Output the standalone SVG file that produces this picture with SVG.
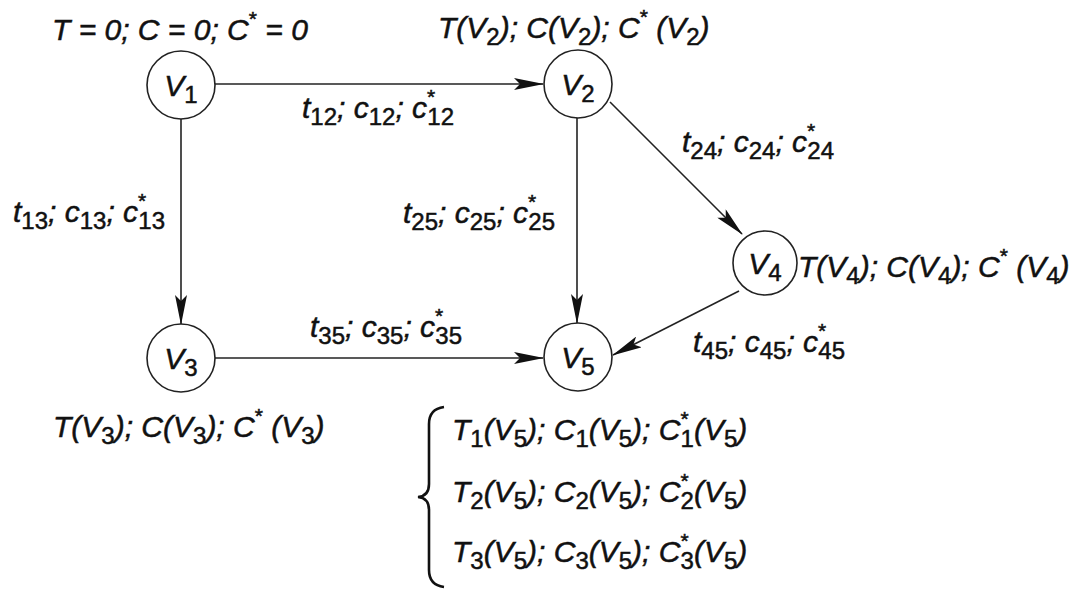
<svg xmlns="http://www.w3.org/2000/svg" width="1078" height="590" viewBox="0 0 1078 590">
<defs>
<style>
text{font-family:"Liberation Sans",Arial,sans-serif;font-style:italic;fill:#111;stroke:#111;stroke-width:0.5;}
.nl{font-size:30px;}
.el{font-size:30px;}
.vl{font-size:30px;}
.sub{font-size:24px;font-style:normal;}
.sup{font-size:21px;font-style:normal;}
.node circle{fill:#fff;stroke:#222;stroke-width:1.6;}
.edge{stroke:#222;stroke-width:1.6;fill:none;marker-end:url(#ah);}
.brace{stroke:#111;stroke-width:2.6;fill:none;}
</style>
<marker id="ah" markerUnits="userSpaceOnUse" markerWidth="30" markerHeight="12" refX="29" refY="6" orient="auto">
<path d="M0,0 L30,6 L0,12 L6,6 z" fill="#111"/>
</marker>
</defs>
<rect width="1078" height="590" fill="#fff"/>

<g id="connectors">
<line class="edge" x1="215" y1="84" x2="543" y2="84"/>
<line class="edge" x1="181" y1="119" x2="181" y2="324"/>
<line class="edge" x1="577" y1="118" x2="577" y2="323"/>
<line class="edge" x1="610" y1="102" x2="742" y2="234"/>
<line class="edge" x1="215" y1="358" x2="543" y2="358"/>
<line class="edge" x1="739" y1="291" x2="613" y2="355"/>
</g>

<g id="edge-labels">
<text class="el" x="302" y="118">t<tspan class="sub" dy="7">12</tspan><tspan dy="-7">; c</tspan><tspan class="sub" dy="7">12</tspan><tspan dy="-7">; c</tspan><tspan class="sup" dy="-14">*</tspan><tspan class="sub" dx="-8" dy="21">12</tspan></text>
<text class="el" x="13" y="222">t<tspan class="sub" dy="7">13</tspan><tspan dy="-7">; c</tspan><tspan class="sub" dy="7">13</tspan><tspan dy="-7">; c</tspan><tspan class="sup" dy="-14">*</tspan><tspan class="sub" dx="-8" dy="21">13</tspan></text>
<text class="el" x="403" y="223">t<tspan class="sub" dy="7">25</tspan><tspan dy="-7">; c</tspan><tspan class="sub" dy="7">25</tspan><tspan dy="-7">; c</tspan><tspan class="sup" dy="-14">*</tspan><tspan class="sub" dx="-8" dy="21">25</tspan></text>
<text class="el" x="682" y="152">t<tspan class="sub" dy="7">24</tspan><tspan dy="-7">; c</tspan><tspan class="sub" dy="7">24</tspan><tspan dy="-7">; c</tspan><tspan class="sup" dy="-14">*</tspan><tspan class="sub" dx="-8" dy="21">24</tspan></text>
<text class="el" x="310" y="337">t<tspan class="sub" dy="7">35</tspan><tspan dy="-7">; c</tspan><tspan class="sub" dy="7">35</tspan><tspan dy="-7">; c</tspan><tspan class="sup" dy="-14">*</tspan><tspan class="sub" dx="-8" dy="21">35</tspan></text>
<text class="el" x="693" y="352">t<tspan class="sub" dy="7">45</tspan><tspan dy="-7">; c</tspan><tspan class="sub" dy="7">45</tspan><tspan dy="-7">; c</tspan><tspan class="sup" dy="-14">*</tspan><tspan class="sub" dx="-8" dy="21">45</tspan></text>
</g>

<g id="V1" class="node">
<circle cx="181" cy="85" r="34"/>
<text class="vl" x="181" y="96" text-anchor="middle">V<tspan class="sub" dy="7">1</tspan></text>
<text class="nl" x="52" y="40">T = 0; C = 0; C<tspan class="sup" dy="-14">*</tspan><tspan dy="14"> = 0</tspan></text>
</g>

<g id="V2" class="node">
<circle cx="578" cy="84" r="34"/>
<text class="vl" x="578" y="95" text-anchor="middle">V<tspan class="sub" dy="7">2</tspan></text>
<text class="nl" x="438" y="38">T(V<tspan class="sub" dy="7">2</tspan><tspan dy="-7">); C(V</tspan><tspan class="sub" dy="7">2</tspan><tspan dy="-7">); C</tspan><tspan class="sup" dy="-14">*</tspan><tspan dy="14"> (V</tspan><tspan class="sub" dy="7">2</tspan><tspan dy="-7">)</tspan></text>
</g>

<g id="V3" class="node">
<circle cx="181" cy="358" r="34"/>
<text class="vl" x="181" y="369" text-anchor="middle">V<tspan class="sub" dy="7">3</tspan></text>
<text class="nl" x="53" y="437">T(V<tspan class="sub" dy="7">3</tspan><tspan dy="-7">); C(V</tspan><tspan class="sub" dy="7">3</tspan><tspan dy="-7">); C</tspan><tspan class="sup" dy="-14">*</tspan><tspan dy="14"> (V</tspan><tspan class="sub" dy="7">3</tspan><tspan dy="-7">)</tspan></text>
</g>

<g id="V4" class="node">
<circle cx="765" cy="263" r="32"/>
<text class="vl" x="765" y="274" text-anchor="middle">V<tspan class="sub" dy="7">4</tspan></text>
<text class="nl" x="798" y="277">T(V<tspan class="sub" dy="7">4</tspan><tspan dy="-7">); C(V</tspan><tspan class="sub" dy="7">4</tspan><tspan dy="-7">); C</tspan><tspan class="sup" dy="-14">*</tspan><tspan dy="14"> (V</tspan><tspan class="sub" dy="7">4</tspan><tspan dy="-7">)</tspan></text>
</g>

<g id="V5" class="node">
<circle cx="578" cy="357" r="34"/>
<text class="vl" x="578" y="368" text-anchor="middle">V<tspan class="sub" dy="7">5</tspan></text>
<path class="brace" d="M444,407 Q429,409 429,424 L429,484 Q429,496 418,497 Q429,498 429,510 L429,570 Q429,585 444,587"/>
<text class="nl" x="452" y="440">T<tspan class="sub" dy="7">1</tspan><tspan dy="-7">(V</tspan><tspan class="sub" dy="7">5</tspan><tspan dy="-7">); C</tspan><tspan class="sub" dy="7">1</tspan><tspan dy="-7">(V</tspan><tspan class="sub" dy="7">5</tspan><tspan dy="-7">); C</tspan><tspan class="sup" dy="-14">*</tspan><tspan class="sub" dx="-8" dy="21">1</tspan><tspan dy="-7">(V</tspan><tspan class="sub" dy="7">5</tspan><tspan dy="-7">)</tspan></text>
<text class="nl" x="452" y="502">T<tspan class="sub" dy="7">2</tspan><tspan dy="-7">(V</tspan><tspan class="sub" dy="7">5</tspan><tspan dy="-7">); C</tspan><tspan class="sub" dy="7">2</tspan><tspan dy="-7">(V</tspan><tspan class="sub" dy="7">5</tspan><tspan dy="-7">); C</tspan><tspan class="sup" dy="-14">*</tspan><tspan class="sub" dx="-8" dy="21">2</tspan><tspan dy="-7">(V</tspan><tspan class="sub" dy="7">5</tspan><tspan dy="-7">)</tspan></text>
<text class="nl" x="452" y="562">T<tspan class="sub" dy="7">3</tspan><tspan dy="-7">(V</tspan><tspan class="sub" dy="7">5</tspan><tspan dy="-7">); C</tspan><tspan class="sub" dy="7">3</tspan><tspan dy="-7">(V</tspan><tspan class="sub" dy="7">5</tspan><tspan dy="-7">); C</tspan><tspan class="sup" dy="-14">*</tspan><tspan class="sub" dx="-8" dy="21">3</tspan><tspan dy="-7">(V</tspan><tspan class="sub" dy="7">5</tspan><tspan dy="-7">)</tspan></text>
</g>
</svg>
